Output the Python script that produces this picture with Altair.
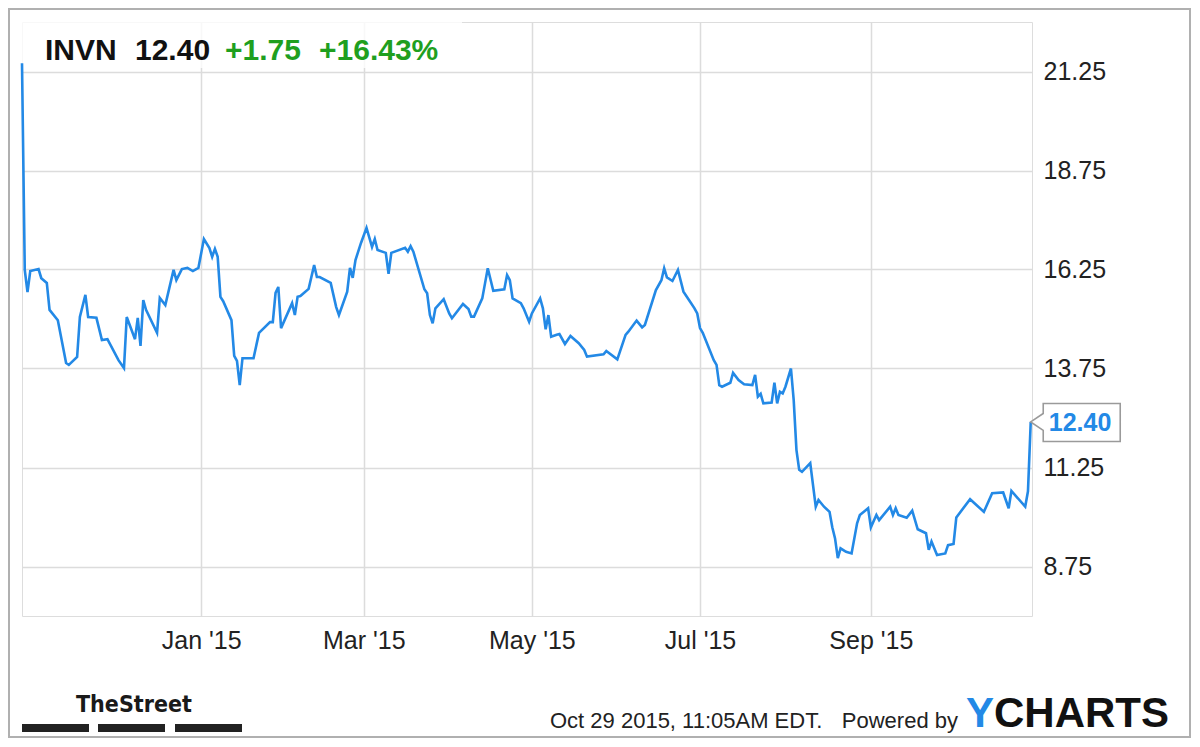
import altair as alt
import pandas as pd

# ---- data (INVN daily close, Oct 2014 - Oct 2015) ----
dates = [
    "2014-10-28", "2014-10-29", "2014-10-30", "2014-10-31",
    "2014-11-03", "2014-11-04", "2014-11-06", "2014-11-07", "2014-11-10", "2014-11-13", "2014-11-14",
    "2014-11-17", "2014-11-18", "2014-11-20", "2014-11-21", "2014-11-24", "2014-11-26", "2014-11-28",
    "2014-12-02", "2014-12-04", "2014-12-05", "2014-12-08", "2014-12-09", "2014-12-10", "2014-12-11",
    "2014-12-12", "2014-12-16", "2014-12-17", "2014-12-19", "2014-12-22", "2014-12-23", "2014-12-25",
    "2014-12-27", "2014-12-29", "2014-12-31",
    "2015-01-02", "2015-01-04", "2015-01-05", "2015-01-06", "2015-01-07", "2015-01-08", "2015-01-09",
    "2015-01-12", "2015-01-13", "2015-01-14", "2015-01-15", "2015-01-16", "2015-01-20", "2015-01-22",
    "2015-01-26", "2015-01-27", "2015-01-28", "2015-01-29", "2015-01-30",
    "2015-02-03", "2015-02-04", "2015-02-05", "2015-02-06", "2015-02-09", "2015-02-11", "2015-02-12",
    "2015-02-13", "2015-02-17", "2015-02-19", "2015-02-20", "2015-02-23", "2015-02-24", "2015-02-25",
    "2015-02-26", "2015-02-28",
    "2015-03-02", "2015-03-04", "2015-03-05", "2015-03-06", "2015-03-09", "2015-03-10", "2015-03-11",
    "2015-03-16", "2015-03-17", "2015-03-18", "2015-03-19", "2015-03-23", "2015-03-24", "2015-03-25",
    "2015-03-26", "2015-03-27", "2015-03-30",
    "2015-04-01", "2015-04-02", "2015-04-06", "2015-04-08", "2015-04-09", "2015-04-10", "2015-04-13",
    "2015-04-14", "2015-04-15", "2015-04-17", "2015-04-21", "2015-04-22", "2015-04-23", "2015-04-24",
    "2015-04-27", "2015-04-28", "2015-04-30",
    "2015-05-01", "2015-05-04", "2015-05-05", "2015-05-06", "2015-05-07", "2015-05-08", "2015-05-10",
    "2015-05-11", "2015-05-13", "2015-05-15", "2015-05-18", "2015-05-20", "2015-05-21", "2015-05-27",
    "2015-05-28",
    "2015-06-01", "2015-06-04", "2015-06-05", "2015-06-08", "2015-06-10", "2015-06-11", "2015-06-15",
    "2015-06-17", "2015-06-18", "2015-06-19", "2015-06-21", "2015-06-23", "2015-06-25", "2015-06-27",
    "2015-06-29", "2015-06-30",
    "2015-07-01", "2015-07-02", "2015-07-06", "2015-07-07", "2015-07-08", "2015-07-09", "2015-07-12",
    "2015-07-13", "2015-07-15", "2015-07-17", "2015-07-20", "2015-07-21", "2015-07-22", "2015-07-23",
    "2015-07-24", "2015-07-27", "2015-07-28", "2015-07-29", "2015-07-30", "2015-07-31",
    "2015-08-01", "2015-08-03", "2015-08-04", "2015-08-05", "2015-08-06", "2015-08-07", "2015-08-10",
    "2015-08-12", "2015-08-13", "2015-08-15", "2015-08-17", "2015-08-18", "2015-08-19", "2015-08-20",
    "2015-08-21", "2015-08-23", "2015-08-25", "2015-08-27", "2015-08-28", "2015-08-31",
    "2015-09-01", "2015-09-03", "2015-09-04", "2015-09-08", "2015-09-09", "2015-09-10", "2015-09-11",
    "2015-09-14", "2015-09-16", "2015-09-18", "2015-09-21", "2015-09-22", "2015-09-23", "2015-09-25",
    "2015-09-28", "2015-09-29",
    "2015-10-01", "2015-10-02", "2015-10-07", "2015-10-12", "2015-10-15", "2015-10-19", "2015-10-21",
    "2015-10-22", "2015-10-27", "2015-10-28", "2015-10-29",
]

prices = [
    21.46, 16.24, 15.68, 16.21,
    16.26, 16.03, 15.91, 15.23, 14.97, 13.89, 13.84,
    14.04, 15.05, 15.61, 15.05, 15.03, 14.47, 14.49,
    13.96, 13.76, 15.05, 14.49, 15.03, 14.32, 15.48,
    15.23, 14.65, 15.53, 15.35, 16.24, 15.98, 16.26,
    16.29, 16.21, 16.29,
    17.02, 16.79, 16.57, 16.77, 16.57, 15.56, 15.45,
    14.97, 14.07, 13.94, 13.33, 14.01, 14.01, 14.65,
    14.92, 14.92, 15.66, 15.81, 14.77,
    15.40, 15.10, 15.56, 15.58, 15.76, 16.36, 16.06,
    16.06, 15.91, 15.30, 15.10, 15.69, 16.29, 16.04,
    16.49, 16.92,
    17.30, 16.82, 17.02, 16.74, 16.67, 16.14, 16.67,
    16.80, 16.70, 16.84, 16.70, 15.75, 15.65, 15.10,
    14.89, 15.27, 15.50,
    15.14, 15.02, 15.38, 15.25, 15.06, 15.06, 15.52,
    15.90, 16.28, 15.71, 15.75, 16.11, 15.98, 15.52,
    15.40, 15.27, 14.93,
    15.14, 15.52, 15.27, 14.74, 15.10, 14.55, 14.60,
    14.62, 14.37, 14.57, 14.39, 14.22, 14.05, 14.11,
    14.19,
    13.98, 14.60, 14.68, 14.96, 14.79, 14.85, 15.73,
    15.98, 16.28, 16.05, 15.96, 16.24, 15.69, 15.48,
    15.27, 15.14,
    14.77, 14.65, 13.96, 13.84, 13.33, 13.29, 13.39,
    13.64, 13.46, 13.35, 13.33, 13.59, 13.04, 13.11,
    12.87, 12.89, 13.39, 12.87, 13.16, 13.12,
    13.29, 13.75, 12.95, 11.69, 11.19, 11.14, 11.36,
    10.26, 10.43, 10.26, 10.13, 9.74, 9.46, 8.96,
    9.21, 9.12, 9.08, 9.84, 10.05, 10.22,
    9.74, 10.05, 9.92, 10.26, 10.05, 10.22, 10.05,
    9.98, 10.16, 9.69, 9.59, 9.17, 9.38, 9.04,
    9.08, 9.29,
    9.32, 9.99, 10.45, 10.13, 10.60, 10.62, 10.22,
    10.66, 10.26, 10.65, 12.40,
]

y_ticks = [8.75, 11.25, 13.75, 16.25, 18.75, 21.25]
x_tick_months = [(2015, 1), (2015, 3), (2015, 5), (2015, 7), (2015, 9)]

ticker = "INVN"
last_price = "12.40"
change_abs = "+1.75"
change_pct = "+16.43%"
stamp_time = "Oct 29 2015, 11:05AM EDT."
stamp_powered = "Powered by"
brand_left = "TheStreet"

LINE_BLUE = "#2389e6"
GREEN = "#1f9f1f"
FONT = "Liberation Sans"

df = pd.DataFrame({"date": dates, "price": prices})
last_df = df.tail(1)

W, H = 1010, 594

x_scale = alt.Scale(
    type="utc",
    domain=[
        alt.DateTime(year=2014, month=10, date=28, utc=True),
        alt.DateTime(year=2015, month=10, date=29, hours=11, minutes=5, utc=True),
    ],
)
y_scale = alt.Scale(domain=[7.5, 22.5], nice=False, zero=False)

x_axis = alt.Axis(
    values=[alt.DateTime(year=y, month=m, date=1, utc=True) for y, m in x_tick_months],
    format="%b '%y", title=None, grid=True, gridColor="#dcdcdc", gridWidth=1.5,
    domain=False, ticks=False, labelFontSize=25, labelColor="#222", labelPadding=12,
    labelFont=FONT,
)
y_axis = alt.Axis(
    values=y_ticks, format=".2f", orient="right", title=None, grid=True,
    gridColor="#dcdcdc", gridWidth=1.5, domain=False, ticks=False,
    labelFontSize=25, labelColor="#222", labelPadding=11, labelFont=FONT,
)

X = alt.X("date:T", scale=x_scale, axis=x_axis)
Y = alt.Y("price:Q", scale=y_scale, axis=y_axis)


def deco():
    return alt.Chart(alt.Data(values=[{}]))


def label(text, x, y, size, color, weight="normal", font=FONT, align="left"):
    return deco().mark_text(
        text=text, align=align, baseline="alphabetic", fontSize=size,
        fontWeight=weight, font=font, color=color,
    ).encode(x=alt.value(x), y=alt.value(y))


header_box = deco().mark_rect(fill="white", opacity=0.8).encode(
    x=alt.value(0), x2=alt.value(440), y=alt.value(0), y2=alt.value(46)
)

line = alt.Chart(df).mark_line(color=LINE_BLUE, strokeWidth=2.6, interpolate="linear").encode(
    x=X, y=Y
)

callout_path = "M0,0 L1.25,-0.85 L1.25,-1.85 L8.95,-1.85 L8.95,1.95 L1.25,1.95 L1.25,0.85 Z"
callout_box = alt.Chart(last_df).mark_point(
    shape=callout_path, size=400, filled=True, fill="white", stroke="#9a9a9a",
    strokeWidth=1.6, opacity=1,
).encode(x=X, y=Y)
callout_text = alt.Chart(last_df).mark_text(
    text=last_price, align="left", baseline="middle", dx=18, dy=1,
    fontSize=25, fontWeight="bold", font=FONT, color=LINE_BLUE,
).encode(x=X, y=Y)

head_1 = label(ticker, 23, 38, 30, "#111", "bold")
head_2 = label(last_price, 113, 38, 30, "#111", "bold")
head_3 = label(change_abs, 203, 38, 30, GREEN, "bold")
head_4 = label(change_pct, 297, 38, 30, GREEN, "bold")

street = label(brand_left, 54, 690, 23, "#1a1a1a", "bold",
               font="DejaVu Sans Condensed, Liberation Sans")
bars = [
    deco().mark_rect(fill="#222").encode(
        x=alt.value(a), x2=alt.value(b), y=alt.value(702), y2=alt.value(710)
    )
    for a, b in [(0, 67), (76, 143), (153, 220)]
]
stamp_1 = label(stamp_time, 528, 706, 22, "#222")
stamp_2 = label(stamp_powered, 936, 706, 22, "#222", align="right")
ych_y = label("Y", 944, 705, 42, LINE_BLUE, "bold")
ych_rest = label("CHARTS", 972, 705, 42, "#111", "bold")

outer = deco().mark_rect(fill=None, stroke="#b0b0b0", strokeWidth=2).encode(
    x=alt.value(-13), x2=alt.value(1168), y=alt.value(-13), y2=alt.value(715)
)

chart = alt.layer(
    outer, header_box, line, callout_box, callout_text,
    head_1, head_2, head_3, head_4, street, *bars, stamp_1, stamp_2, ych_y, ych_rest,
).properties(
    width=W, height=H,
    autosize=alt.AutoSizeParams(type="none"),
    padding={"left": 14, "top": 14, "right": 160, "bottom": 122},
    background="white",
).configure_view(
    fill="#f7f7f7", stroke="#999999", strokeWidth=2.5
).configure(font=FONT)

chart.save("out.html", embed_options={"renderer": "svg", "actions": False})
